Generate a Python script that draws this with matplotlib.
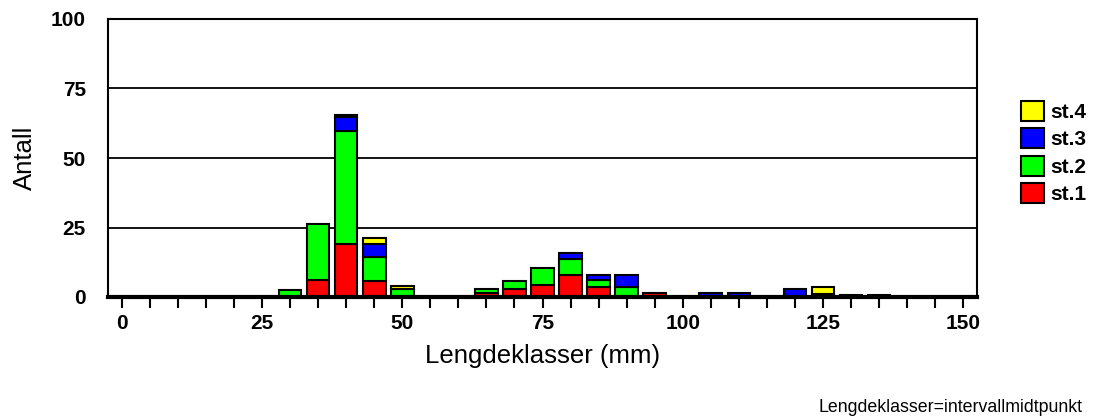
import matplotlib
matplotlib.use("Agg")
import matplotlib.pyplot as plt
from matplotlib.patches import Patch
import numpy as np

plt.rcParams['font.family'] = ['Liberation Sans', 'DejaVu Sans']

# Length classes (interval midpoints, mm) and counts per station
lengths = [30, 35, 40, 45, 50, 65, 70, 75, 80, 85, 90, 95, 105, 110, 120, 125, 130, 135]
st1 = [0, 6.2, 19, 5.8, 0, 1.3, 2.9, 4.2, 7.8, 3.7, 0, 1.3, 0, 0, 0, 0, 0.7, 0.7]
st2 = [2.5, 20, 40.7, 8.5, 3, 1.5, 2.7, 6.3, 5.9, 2.4, 3.7, 0, 0, 0, 0, 0, 0, 0]
st3 = [0, 0, 5, 4.7, 0, 0, 0, 0, 2.0, 1.7, 4.1, 0, 1.3, 1.3, 2.8, 1.2, 0, 0]
st4 = [0, 0, 0.6, 2.3, 1.1, 0, 0, 0, 0, 0, 0, 0, 0, 0, 0, 2.4, 0, 0]

series = [("st.1", st1, "#ff0000"), ("st.2", st2, "#00ff00"),
          ("st.3", st3, "#0000ff"), ("st.4", st4, "#ffff00")]

fig = plt.figure(figsize=(10.93, 4.18), dpi=100)
ax = fig.add_axes([108 / 1093, 1 - 297 / 418, (977 - 108) / 1093, (297 - 19) / 418])

# Gridlines behind bars
for y in [25, 50, 75]:
    ax.axhline(y, color="black", linewidth=1.3, zorder=0)

bottom = np.zeros(len(lengths))
for name, vals, col in series:
    vals = np.array(vals, dtype=float)
    mask = vals > 0
    ax.bar(np.array(lengths)[mask], vals[mask], width=4, bottom=bottom[mask],
           color=col, edgecolor="black", linewidth=1.5, zorder=2)
    bottom += vals

ax.set_xlim(-2.5, 152.5)
ax.set_ylim(0, 100)
ax.set_xticks(np.arange(0, 151, 25))
ax.set_xticks(np.arange(0, 151, 5), minor=True)
ax.set_yticks([0, 25, 50, 75, 100])
ax.tick_params(axis="x", which="both", direction="out", length=8, width=1.5, pad=4)
ax.tick_params(axis="y", length=0, pad=16)
for lab in ax.get_xticklabels() + ax.get_yticklabels():
    lab.set_fontweight("bold")
    lab.set_fontsize(15)

for side in ["left", "right", "top"]:
    ax.spines[side].set_linewidth(1.5)
ax.spines["bottom"].set_linewidth(3)
ax.spines["bottom"].set_zorder(3)

ax.set_xlabel("Lengdeklasser (mm)", fontsize=18.5, labelpad=8)
ax.set_ylabel("Antall", fontsize=18.5, labelpad=10)

handles = [Patch(facecolor=col, edgecolor="black", linewidth=1.5, label=name)
           for name, vals, col in reversed(series)]
fig.legend(handles=handles, loc="upper left", bbox_to_anchor=(1021 / 1093, 1 - 101 / 418),
           frameon=False, borderpad=0, borderaxespad=0,
           prop={"weight": "bold", "size": 15},
           handlelength=1.1, handleheight=1.1, handletextpad=0.3, labelspacing=0.3)

fig.text(1082 / 1093, 1 - 407 / 418, "Lengdeklasser=intervallmidtpunkt",
         ha="right", va="center", fontsize=12.8)

fig.savefig("out.png", dpi=100)
